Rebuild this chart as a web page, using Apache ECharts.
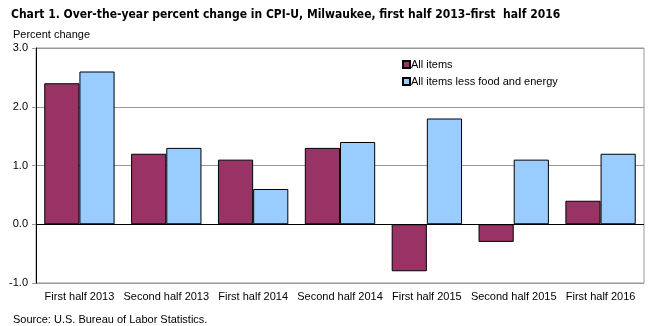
<!DOCTYPE html>
<html><head><meta charset="utf-8">
<script src="https://cdn.jsdelivr.net/npm/echarts@6/dist/echarts.min.js"></script>
<style>html,body{margin:0;padding:0;background:#fff}#c{width:659px;height:326px}</style>
</head><body><div id="c"></div>
<script>
const categories = ["First half 2013","Second half 2013","First half 2014","Second half 2014","First half 2015","Second half 2015","First half 2016"];
const allItems = [2.4, 1.2, 1.1, 1.3, -0.8, -0.3, 0.4];
const coreItems = [2.6, 1.3, 0.6, 1.4, 1.8, 1.1, 1.2];
const seriesNames = ["All items", "All items less food and energy"];
const FONT = "'DejaVu Sans Condensed', 'Liberation Sans Narrow', 'Arial Narrow', 'Liberation Sans', Arial, sans-serif";
const BODY = "'Liberation Sans', Arial, sans-serif";
const chart = echarts.init(document.getElementById('c'), null, {renderer:'canvas'});
chart.setOption({
  animation:false,
  textStyle:{fontFamily:BODY},
  title:[
    {text:"Chart 1. Over-the-year percent change in CPI-U, Milwaukee, first half 2013\u2013first  half 2016", left:6, top:4,
     textStyle:{fontFamily:FONT, fontSize:12, fontWeight:'bold', color:'#000'}},
    {text:"Percent change", left:8, top:24, textStyle:{fontFamily:BODY, fontSize:11, fontWeight:'normal', color:'#000'}},
    {text:"Source: U.S. Bureau of Labor Statistics.", left:8, top:309, textStyle:{fontFamily:BODY, fontSize:11, fontWeight:'normal', color:'#000'}}
  ],
  legend:{
    orient:'vertical', left:397, top:54, itemWidth:7, itemHeight:7, itemGap:6,
    icon:'rect',
    textStyle:{fontFamily:BODY, fontSize:11, color:'#000', padding:[0,0,0,-4]},
    data:seriesNames
  },
  grid:{left:36, right:15, top:48, bottom:43, show:true, borderColor:'#999', borderWidth:1},
  xAxis:{
    type:'category', data:categories, position:'bottom',
    axisLine:{show:false}, axisTick:{show:false},
    axisLabel:{fontFamily:BODY, fontSize:11, color:'#000', margin:8, interval:0}
  },
  yAxis:{
    type:'value', min:-1, max:3, interval:1,
    axisLine:{show:true, lineStyle:{color:'#000'}},
    axisTick:{show:true, length:4, lineStyle:{color:'#999'}},
    splitLine:{show:true, lineStyle:{color:'#999'}},
    axisLabel:{fontFamily:BODY, fontSize:11, color:'#000', margin:8, formatter:v=>v.toFixed(1)}
  },
  series:[
    {name:seriesNames[0], type:'bar', data:allItems, barGap:'0%', barCategoryGap:'19%',
     itemStyle:{color:'#993366', borderColor:'#000', borderWidth:1},
     markLine:{silent:true, symbol:'none', label:{show:false}, lineStyle:{color:'#000', type:'solid', width:1}, data:[{yAxis:0}]}},
    {name:seriesNames[1], type:'bar', data:coreItems,
     itemStyle:{color:'#99CCFF', borderColor:'#000', borderWidth:1}}
  ]
});
</script></body></html>
